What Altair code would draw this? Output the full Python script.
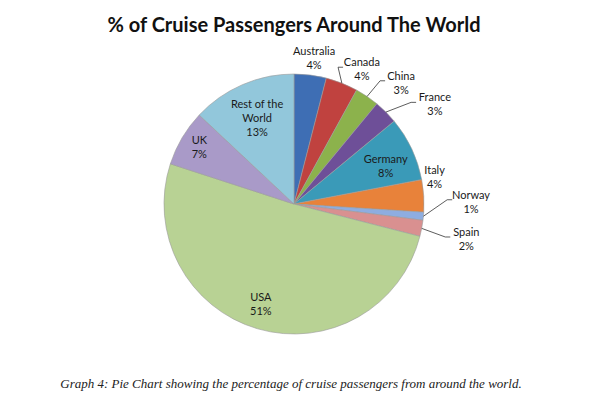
import altair as alt
import pandas as pd
import numpy as np

# ---- data ----
countries = ["Australia", "Canada", "China", "France", "Germany", "Italy",
             "Norway", "Spain", "USA", "UK", "Rest of the World"]
shares = [4, 4, 3, 3, 8, 4, 1, 2, 51, 7, 13]
label_lines = ["Australia", "Canada", "China", "France", "Germany", "Italy",
               "Norway", "Spain", "USA", "UK", "Rest of the\nWorld"]

# ---- style / layout ----
colors = ["#3E6EB4", "#C0423F", "#8CB24C", "#6E4F98", "#3A9AB8", "#E8823A",
          "#8EADE0", "#D99090", "#B8D294", "#A99AC8", "#92C7DB"]
# label placement: angular nudge (deg) from slice middle, and radius (px)
label_nudge = [0.7, 5.3, 7.5, 10.0, 3.0, -7.0, -5.8, 1.0, 2.0, 0.0, 0.0]
label_radius = [146, 150, 161, 172, 99, 143, 177, 176, 106, 110, 93]
has_leader = [False, True, True, True, False, False, True, True, False, False, False]

W, H = 584, 350
CX, CY = 286, 161          # pie centre inside the view (px)
R = 130                    # pie radius (px)
LINE_H = 14

total = sum(shares)
cum = np.cumsum([0] + shares)
mid_deg = [(cum[i] + shares[i] / 2) / total * 360 for i in range(len(shares))]

slices = pd.DataFrame({
    "country": countries,
    "share": shares,
    "idx": list(range(len(countries))),
})

lab_rows = []
lead_rows = []
for i, c in enumerate(countries):
    a = np.radians(mid_deg[i] + label_nudge[i])
    lx = label_radius[i] * np.sin(a)
    ly = label_radius[i] * np.cos(a)
    txt = f"{label_lines[i]}\n{shares[i]}%"
    n = txt.count("\n") + 1
    # Vega puts the first line on the anchor: shift so the block is centred
    lab_rows.append({"country": c, "x": lx, "y": ly + (n - 1) * LINE_H / 2,
                     "text": txt})
    if has_leader[i]:
        first = label_lines[i].split("\n")[0]
        halfw = len(first) * 2.8 + 2
        ex, ey = lx - halfw, ly + 3
        am = np.radians(mid_deg[i])
        pts = [(R * np.sin(am), R * np.cos(am)), (ex - 5, ey), (ex, ey)]
        for k, (px, py) in enumerate(pts):
            lead_rows.append({"country": c, "k": k, "x": px, "y": py})
labels = pd.DataFrame(lab_rows)
leaders = pd.DataFrame(lead_rows)

xscale = alt.Scale(domain=[-CX, W - CX], nice=False, zero=False)
yscale = alt.Scale(domain=[-(H - CY), CY], nice=False, zero=False)

pie = alt.Chart(slices).mark_arc(outerRadius=R, stroke="#9a9a9a",
                                 strokeWidth=0.6).encode(
    theta=alt.Theta("share:Q", stack=True),
    order=alt.Order("idx:Q"),
    color=alt.Color("country:N", scale=alt.Scale(domain=countries, range=colors),
                    legend=None),
    x=alt.value(CX), y=alt.value(CY),
)

lead = alt.Chart(leaders).mark_line(color="#333333", strokeWidth=0.8).encode(
    x=alt.X("x:Q", scale=xscale, axis=None),
    y=alt.Y("y:Q", scale=yscale, axis=None),
    detail="country:N",
    order="k:Q",
)

text = alt.Chart(labels).mark_text(font="Lato", fontSize=11, lineBreak="\n",
                                   lineHeight=LINE_H, align="center",
                                   baseline="middle", color="#1a1a1a").encode(
    x=alt.X("x:Q", scale=xscale, axis=None),
    y=alt.Y("y:Q", scale=yscale, axis=None),
    text="text:N",
)

caption = alt.Chart(pd.DataFrame({"t": ["Graph 4: Pie Chart  showing the percentage of cruise passengers  from around the world."]})).mark_text(
    font="Liberation Serif", fontStyle="italic", fontSize=13, color="#222222",
    align="center", baseline="middle").encode(
    x=alt.value(283), y=alt.value(341), text="t:N")

chart = alt.layer(pie, lead, text, caption).properties(
    width=W, height=H,
    padding={"top": 8, "left": 0, "right": 0, "bottom": 0},
    title=alt.TitleParams("% of Cruise Passengers Around The World",
                          font="Lato", fontSize=20, fontWeight="bold",
                          color="#111111", anchor="middle", offset=7, dx=-6),
).configure_view(stroke=None)

chart.save("out.html", embed_options={"renderer": "svg", "actions": False})
